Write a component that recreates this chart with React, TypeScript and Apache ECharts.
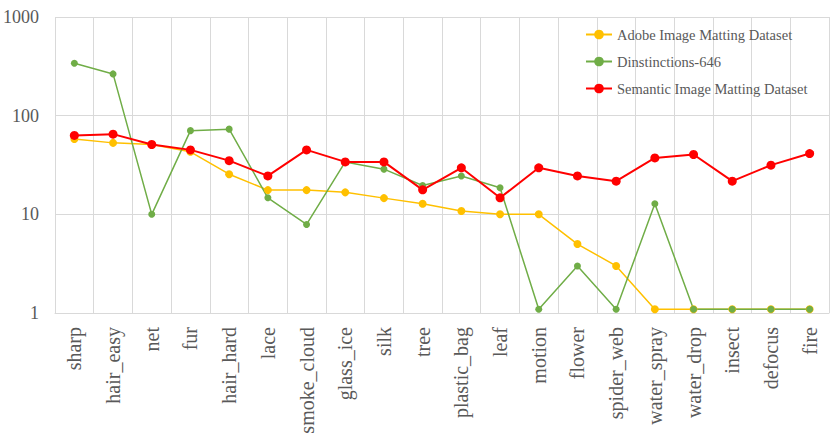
import React, { useEffect, useRef } from "react";
import * as echarts from "echarts";

const categories = [
  "sharp", "hair_easy", "net", "fur", "hair_hard", "lace", "smoke_cloud", "glass_ice",
  "silk", "tree", "plastic_bag", "leaf", "motion", "flower", "spider_web", "water_spray",
  "water_drop", "insect", "defocus", "fire",
];

const adobe = [58, 53, 51, 43, 25.5, 17.6, 17.6, 16.7, 14.6, 12.8, 10.8, 10, 10, 5, 3, 1.09, 1.09, 1.09, 1.09, 1.09];
const distinctions = [340, 265, 10, 70.5, 73, 14.7, 7.9, 34, 28.7, 19.6, 24.5, 18.6, 1.09, 3, 1.09, 12.8, 1.09, 1.09, 1.09, 1.09];
const semantic = [63, 65, 51, 45, 35, 24.5, 45, 34, 34, 17.7, 29.6, 14.7, 29.6, 24.5, 21.7, 37.3, 40.4, 21.7, 31.5, 41.3];

const seriesNames = ["Adobe Image Matting Dataset", "Dinstinctions-646", "Semantic Image Matting Dataset"];

export default function App() {
  const ref = useRef<HTMLDivElement>(null);
  useEffect(() => {
    if (!ref.current) return;
    const chart = echarts.init(ref.current, undefined, { renderer: "svg" });
    const font = "Liberation Serif";
    chart.setOption({
      animation: false,
      textStyle: { fontFamily: font },
      grid: { left: 53, right: 1, top: 17, bottom: 134, containLabel: false },
      legend: {
        orient: "vertical",
        left: 580,
        top: 22,
        itemWidth: 26,
        itemHeight: 12,
        itemGap: 12,
        textStyle: { fontFamily: font, fontSize: 14.5, color: "#595959" },
        data: seriesNames,
      },
      xAxis: {
        type: "category",
        data: categories,
        boundaryGap: true,
        axisLine: { show: true, lineStyle: { color: "#D9D9D9", width: 1 } },
        axisTick: { show: false },
        splitLine: { show: true, lineStyle: { color: "#D9D9D9", width: 1 } },
        axisLabel: {
          interval: 0,
          rotate: 90,
          margin: 14,
          fontSize: 20,
          fontFamily: font,
          color: "#595959",
        },
      },
      yAxis: {
        type: "log",
        logBase: 10,
        min: 1,
        max: 1000,
        axisLine: { show: false },
        axisTick: { show: false },
        splitLine: { show: true, lineStyle: { color: "#D9D9D9", width: 1 } },
        axisLabel: {
          fontSize: 18,
          fontFamily: font,
          color: "#595959",
          margin: 16,
          formatter: (v: number) => String(Math.round(v)),
        },
      },
      series: [
        {
          name: seriesNames[0],
          type: "line",
          data: adobe,
          symbol: "circle",
          symbolSize: 8,
          itemStyle: { color: "#FFC000" },
          lineStyle: { color: "#FFC000", width: 1.5 },
        },
        {
          name: seriesNames[1],
          type: "line",
          data: distinctions,
          symbol: "circle",
          symbolSize: 7,
          itemStyle: { color: "#70AD47" },
          lineStyle: { color: "#70AD47", width: 1.5 },
        },
        {
          name: seriesNames[2],
          type: "line",
          data: semantic,
          symbol: "circle",
          symbolSize: 9,
          itemStyle: { color: "#FF0000" },
          lineStyle: { color: "#FF0000", width: 2 },
        },
      ],
    });
    return () => chart.dispose();
  }, []);
  return (
    <div
      ref={ref}
      style={{ position: "absolute", left: 0, top: 0, width: 830, height: 447, background: "#fff" }}
    />
  );
}
